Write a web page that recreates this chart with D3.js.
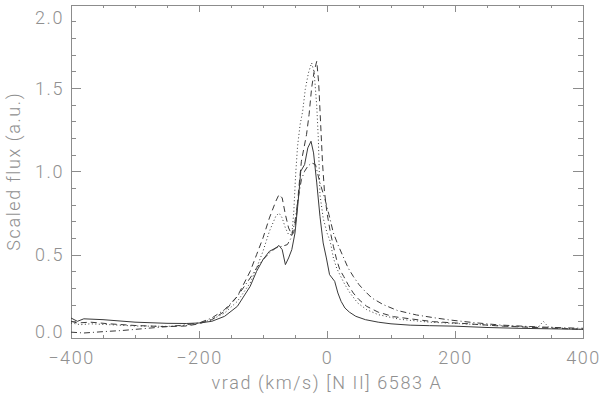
<!DOCTYPE html>
<html>
<head>
<meta charset="utf-8">
<script src="https://cdn.jsdelivr.net/npm/d3@7"></script>
<style>
	body{margin:0;background:#fff;}
	svg{display:block;}
	.lbl{font-family:Roboto,"Liberation Sans",Arial,sans-serif;font-weight:300;font-size:18px;fill:#909090;letter-spacing:1.6px;}
	.axis path,.axis line{stroke:#8c8c8c;stroke-width:1;shape-rendering:crispEdges;}
	.curve{fill:none;stroke:#3a3a3a;stroke-width:1;}
</style>
</head>
<body>
<svg width="600" height="394"></svg>
<script>
// velocity (km/s) and scaled flux
const vSolid = [-400,-390,-380,-350,-300,-250,-220,-200,-180,-160,-140,-120,-110,-100,-90,-80,-75,-70,-65,-60,-55,-50,-45,-41,-35,-30,-25,-21,-16,-11,-6,-1,4,8,12,17,22,28,35,45,60,80,100,130,160,200,250,300,350,400];
const fSolid = [0.12,0.10,0.115,0.11,0.095,0.088,0.087,0.09,0.10,0.13,0.19,0.31,0.40,0.47,0.52,0.54,0.555,0.53,0.44,0.48,0.53,0.63,0.82,1.00,1.04,1.14,1.18,1.11,0.93,0.73,0.57,0.48,0.38,0.36,0.34,0.27,0.22,0.18,0.155,0.13,0.11,0.095,0.085,0.077,0.074,0.071,0.063,0.058,0.055,0.052];

const vDot = [-400,-385,-370,-340,-300,-250,-220,-200,-180,-160,-140,-120,-110,-100,-90,-80,-75,-70,-65,-60,-55,-52,-49,-46,-42,-38,-34,-29,-24,-20,-16,-13.5,-11,-6,0,5,10,15,20,28,36,48,62,80,114,160,218,280,330,338,346,370,400];
const fDot = [0.09,0.08,0.085,0.08,0.072,0.07,0.075,0.09,0.11,0.15,0.22,0.33,0.42,0.52,0.64,0.73,0.75,0.72,0.66,0.62,0.62,0.75,0.98,1.15,1.28,1.36,1.49,1.59,1.65,1.59,1.39,1.19,0.86,0.72,0.63,0.58,0.48,0.42,0.38,0.32,0.27,0.21,0.17,0.14,0.112,0.095,0.084,0.072,0.065,0.10,0.066,0.058,0.052];

const vDash = [-400,-390,-370,-340,-300,-250,-220,-200,-180,-160,-140,-120,-110,-100,-90,-80,-75,-70,-65,-60,-55,-52,-48,-44,-40,-36,-32,-28,-24,-20,-16,-13,-10,-7,-4,0,5,10,15,20,26,33,41,50,62,80,104,130,166,210,270,330,400];
const fDash = [0.10,0.09,0.095,0.085,0.075,0.068,0.072,0.085,0.11,0.16,0.25,0.40,0.50,0.60,0.72,0.82,0.86,0.84,0.74,0.66,0.62,0.63,0.72,0.90,1.06,1.14,1.22,1.34,1.50,1.60,1.66,1.53,1.29,1.05,0.88,0.75,0.64,0.55,0.47,0.41,0.37,0.32,0.27,0.23,0.19,0.155,0.128,0.115,0.098,0.088,0.072,0.062,0.052];

const vDashDot = [-400,-380,-350,-320,-290,-260,-230,-200,-180,-160,-140,-120,-110,-100,-90,-80,-70,-62,-56,-50,-45,-40,-35,-30,-24,-18,-11,-3,3,10,17,25,33,41,50,57,70,88,110,140,170,192,230,270,310,348,400];
const fDashDot = [0.035,0.03,0.038,0.045,0.055,0.065,0.075,0.09,0.12,0.17,0.25,0.36,0.42,0.47,0.51,0.54,0.55,0.56,0.60,0.70,0.84,0.95,1.00,1.03,1.05,1.04,0.93,0.83,0.74,0.63,0.56,0.49,0.42,0.37,0.32,0.29,0.24,0.20,0.165,0.138,0.12,0.108,0.092,0.078,0.07,0.064,0.058];

const xTicks = [-400,-200,0,200,400];
const yTicks = [0,0.5,1.0,1.5,2.0];
const xTitle = "vrad (km/s) [N II] 6583 A";
const yTitle = "Scaled flux (a.u.)";

let margin = {top: 4.5, right: 17, bottom: 56, left: 71};
let svg = d3.select("svg");
let W = +svg.attr("width"), H = +svg.attr("height");

let x = d3.scaleLinear().domain([-400,400]).range([margin.left, W - margin.right]);
let y = d3.scaleLinear().domain([0,2]).range([H - margin.bottom, margin.top]);

let xMinor = d3.range(-400,401,50);
let yMinor = d3.range(0,2.001,0.1);

// frame + ticks (ticks point inward, like IDL)
function frame(axisFn, scale, pos, major, minor, majLen, minLen, labels){
	let g = svg.append("g").attr("class","axis").attr("transform", pos);
	g.call(axisFn(scale).tickValues(minor).tickSize(-minLen).tickFormat(""));
	let g2 = svg.append("g").attr("class","axis").attr("transform", pos);
	g2.call(axisFn(scale).tickValues(major).tickSize(-majLen).tickFormat(labels ? d3.format(labels) : "").tickPadding(labels ? 9 : 0));
	g2.select(".domain").remove();
	return g2;
}

let gb = frame(d3.axisBottom, x, `translate(0,${y(0)})`, xTicks, xMinor, 7, 3.5, "d");
frame(d3.axisTop, x, `translate(0,${y(2)})`, xTicks, xMinor, 7, 3.5, null);
let gl = frame(d3.axisLeft, y, `translate(${x(-400)},0)`, yTicks, yMinor, 10, 5, ".1f");
frame(d3.axisRight, y, `translate(${x(400)},0)`, yTicks, yMinor, 10, 5, null);

gb.selectAll("text").attr("class","lbl").attr("fill",null).attr("font-size",null).attr("font-family",null)
	.attr("y", 13).text(d => d < 0 ? "\u2212" + Math.abs(d) : d);
gl.selectAll("text").attr("class","lbl").attr("fill",null).attr("font-size",null).attr("font-family",null)
	.attr("x", -7)
	.attr("dy", d => d === 2 ? "1.05em" : d === 0 ? "-0.05em" : "0.35em");

svg.append("text").attr("class","lbl")
	.attr("x", (x(-400)+x(400))/2).attr("y", 389)
	.attr("text-anchor","middle").text(xTitle);
svg.append("text").attr("class","lbl")
	.attr("transform", `translate(20,${(y(0)+y(2))/2}) rotate(-90)`)
	.attr("text-anchor","middle").text(yTitle);

let line = d3.line().x(d => x(d[0])).y(d => y(d[1]));
let series = [
	{v: vSolid, f: fSolid, dash: null},
	{v: vDot, f: fDot, dash: "1,2.5"},
	{v: vDash, f: fDash, dash: "6,4"},
	{v: vDashDot, f: fDashDot, dash: "6,3,1,3"}
];
series.forEach(s => {
	svg.append("path")
		.attr("class","curve")
		.attr("stroke-dasharray", s.dash)
		.attr("d", line(d3.zip(s.v, s.f)));
});
</script>
</body>
</html>
